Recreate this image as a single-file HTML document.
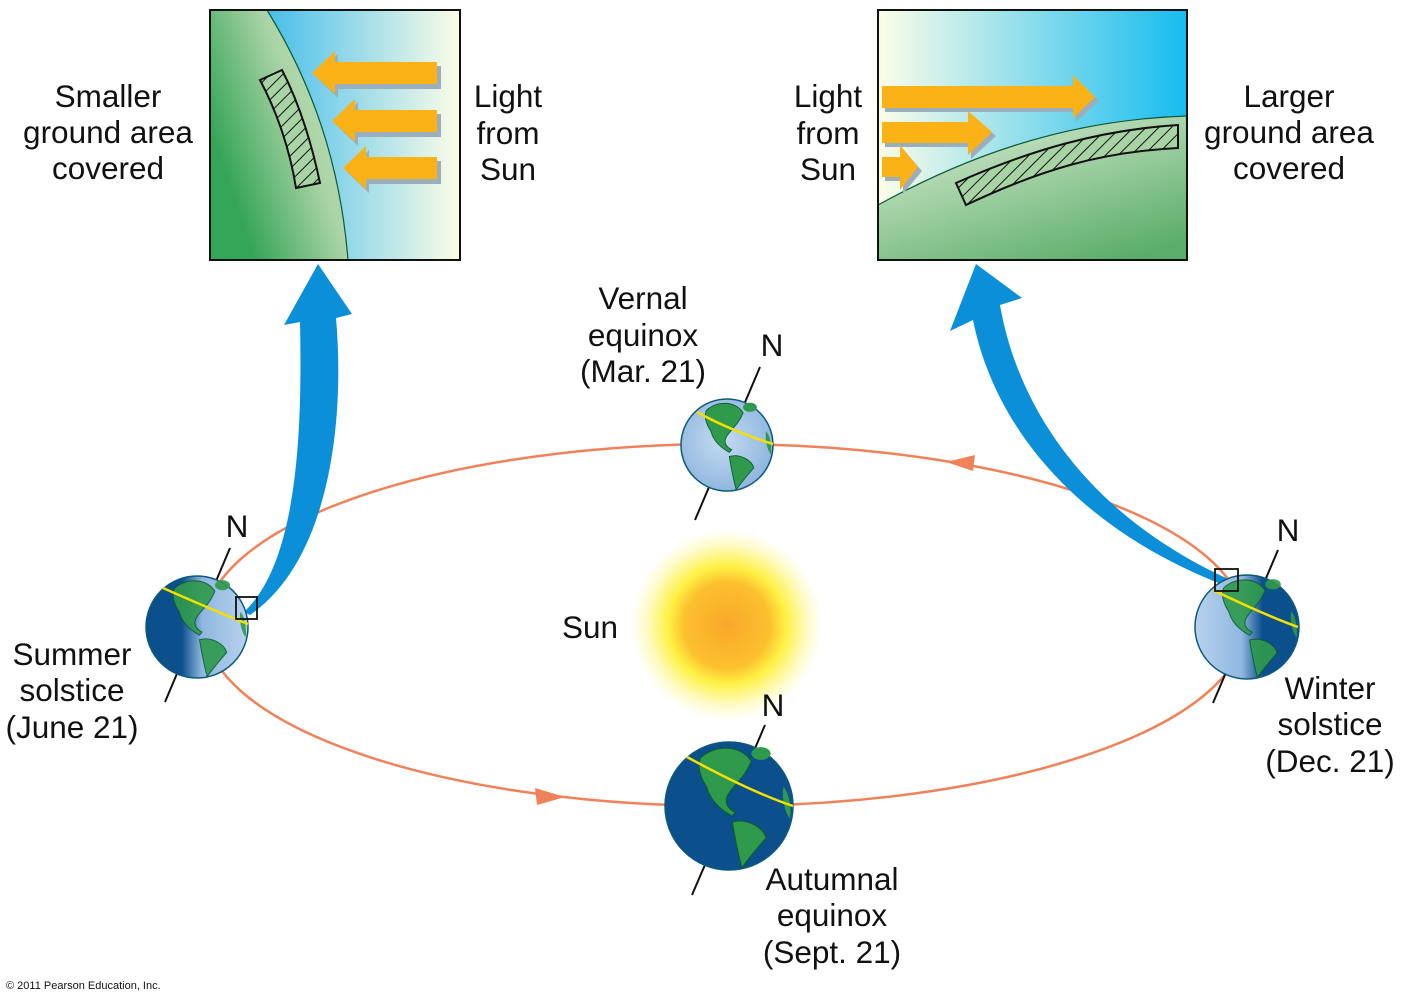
<!DOCTYPE html>
<html><head><meta charset="utf-8"><style>
html,body{margin:0;padding:0;background:#fff;}
svg{display:block;}
text{font-family:"Liberation Sans",sans-serif;fill:#111;}
</style></head><body>
<svg width="1402" height="1002" viewBox="0 0 1402 1002" xmlns="http://www.w3.org/2000/svg">
<defs>
<linearGradient id="skyL" x1="0" x2="1" y1="0" y2="0"><stop offset="0.2" stop-color="#40bbea"/><stop offset="1" stop-color="#fdfde8"/></linearGradient>
<linearGradient id="grL" x1="0.2" y1="0.8" x2="1" y2="0.3"><stop offset="0" stop-color="#35a558"/><stop offset="0.6" stop-color="#a9d3a5"/><stop offset="1" stop-color="#c0dfbc"/></linearGradient>
<linearGradient id="skyR" x1="0" x2="1" y1="0" y2="0"><stop offset="0" stop-color="#fdfde8"/><stop offset="1" stop-color="#16bcf0"/></linearGradient>
<linearGradient id="grR" x1="0.3" y1="0.2" x2="0.8" y2="1"><stop offset="0" stop-color="#bfdfbc"/><stop offset="1" stop-color="#5aad6a"/></linearGradient>
<pattern id="hatch" patternUnits="userSpaceOnUse" width="9" height="9" patternTransform="rotate(45)"><rect width="9" height="9" fill="#a8d3a4"/><line x1="0" y1="0" x2="0" y2="9" stroke="#111" stroke-width="2"/></pattern>
<radialGradient id="sun" cx="0.5" cy="0.5" r="0.5"><stop offset="0" stop-color="#f9a82a"/><stop offset="0.45" stop-color="#fcc02e"/><stop offset="0.62" stop-color="#fef145"/><stop offset="0.85" stop-color="#fffbc8"/><stop offset="1" stop-color="#ffffff"/></radialGradient>
<linearGradient id="eSum" x1="0" x2="1"><stop offset="0.35" stop-color="#0b4f8c"/><stop offset="0.55" stop-color="#8fb7df"/><stop offset="1" stop-color="#b9d2ee"/></linearGradient>
<linearGradient id="eWin" x1="0" x2="1"><stop offset="0" stop-color="#b9d2ee"/><stop offset="0.45" stop-color="#8fb7df"/><stop offset="0.65" stop-color="#0b4f8c"/></linearGradient>
<radialGradient id="eLit" cx="0.45" cy="0.45" r="0.6"><stop offset="0" stop-color="#c5dbf2"/><stop offset="1" stop-color="#8cb4dd"/></radialGradient>
<g id="cont">
<path d="M-0.45,-0.75 C-0.2,-0.98 0.2,-0.95 0.35,-0.7 C0.25,-0.45 0.1,-0.35 0,-0.2 C-0.1,-0.05 0,0.05 0.1,0.1 L0.05,0.16 C-0.15,0.05 -0.3,-0.1 -0.35,-0.3 C-0.45,-0.45 -0.5,-0.6 -0.45,-0.75 Z" fill="#2f9a4c" stroke="#0c5a3a" stroke-width="0.02"/>
<path d="M0.05,0.25 C0.3,0.18 0.55,0.35 0.58,0.5 C0.45,0.65 0.32,0.8 0.2,0.97 C0.14,0.75 0.1,0.55 0.05,0.25 Z" fill="#2f9a4c" stroke="#0c5a3a" stroke-width="0.02"/>
<ellipse cx="0.5" cy="-0.82" rx="0.15" ry="0.1" fill="#2f9a4c"/>
<path d="M0.85,-0.3 C0.95,-0.2 0.98,0.1 0.95,0.2 C0.88,0.1 0.82,-0.1 0.85,-0.3Z" fill="#2f9a4c"/>
</g>
</defs>

<ellipse cx="725" cy="625" rx="520" ry="181" fill="none" stroke="#f0825a" stroke-width="2.5"/>
<polygon points="946,462 975,455 973,471" fill="#f0825a"/>
<polygon points="565,797 535,788 537,805" fill="#f0825a"/>

<circle cx="727" cy="625" r="95" fill="url(#sun)"/>

<rect x="210" y="10" width="250" height="250" fill="url(#skyL)"/>
<path d="M210,10 L267,10 C310,80 340,160 348,260 L210,260 Z" fill="url(#grL)"/>
<path d="M267,10 C310,80 340,160 348,260" fill="none" stroke="#0c5a3a" stroke-width="1.2"/>
<path d="M260,80 L282,70 C300,105 312,145 320,183 L296,188 C290,150 277,112 260,80 Z" fill="url(#hatch)" stroke="#111" stroke-width="2"/>
<g fill="#9aaebd">
<polygon points="316,77 338,54 338,66 441,66 441,89 338,89 338,98"/>
<polygon points="336,125 358,102 358,114 441,114 441,137 358,137 358,146"/>
<polygon points="347,172 369,150 369,161 441,161 441,184 369,184 369,193"/>
</g>
<g fill="#fbb217">
<polygon points="312,73 335,51 335,62 437,62 437,84 335,84 335,94"/>
<polygon points="332,121 355,99 355,110 437,110 437,132 355,132 355,142"/>
<polygon points="343,168 366,146 366,157 437,157 437,179 366,179 366,189"/>
</g>
<rect x="210" y="10" width="250" height="250" fill="none" stroke="#111" stroke-width="2"/>

<rect x="878" y="10" width="309" height="250" fill="url(#skyR)"/>
<path d="M878,205 C960,160 1060,120 1187,116 L1187,260 L878,260 Z" fill="url(#grR)"/>
<path d="M878,205 C960,160 1060,120 1187,116" fill="none" stroke="#0c5a3a" stroke-width="1.2"/>
<path d="M956,183 C1030,150 1100,130 1178,125 L1178,148 C1100,152 1040,170 966,205 Z" fill="url(#hatch)" stroke="#111" stroke-width="2"/>
<g fill="#9aaebd">
<polygon points="885,90 1076,90 1076,79 1099,101 1076,122 1076,112 885,112"/>
<polygon points="885,126 971,126 971,115 996,136 971,159 971,147 885,147"/>
<polygon points="885,161 903,161 903,149 922,171 903,194 903,181 885,181"/>
</g>
<g fill="#fbb217">
<polygon points="882,86 1073,86 1073,75 1095,97 1073,118 1073,108 882,108"/>
<polygon points="882,122 968,122 968,111 992,132 968,155 968,143 882,143"/>
<polygon points="882,157 900,157 900,145 918,167 900,190 900,177 882,177"/>
</g>
<rect x="878" y="10" width="309" height="250" fill="none" stroke="#111" stroke-width="2"/>

<path d="M244,612 C300,560 302,420 300,322 L284,325 L318,264 L352,314 L336,318 C345,420 330,560 250,615 Z" fill="#0a8fd8"/>
<path d="M1226,578 C1100,520 1020,420 1000,305 L1022,298 L976,264 L950,331 L973,320 C995,430 1080,530 1226,586 Z" fill="#0a8fd8"/>

<g stroke="#111" stroke-width="2">
<line x1="165" y1="702" x2="230" y2="548"/>
<line x1="695" y1="520" x2="760" y2="367"/>
<line x1="1213" y1="703" x2="1278" y2="550"/>
<line x1="692" y1="895" x2="765" y2="725"/>
</g>
<circle cx="197" cy="627" r="51" fill="url(#eSum)" stroke="#0c5a7a" stroke-width="1.5"/>
<g transform="translate(197,627) scale(51)"><use href="#cont" opacity="0.9"/></g>
<path d="M163,588 C190,600 225,615 248,624" stroke="#f5e000" stroke-width="2.5" fill="none"/>
<rect x="236" y="597" width="21" height="22" fill="none" stroke="#111" stroke-width="1.8"/>
<circle cx="727" cy="445" r="46" fill="url(#eLit)" stroke="#0c5a7a" stroke-width="1.5"/>
<g transform="translate(727,445) scale(46)"><use href="#cont"/></g>
<path d="M697,412 C720,425 750,437 773,444" stroke="#f5e000" stroke-width="2.5" fill="none"/>
<circle cx="1247" cy="627" r="52" fill="url(#eWin)" stroke="#0c5a7a" stroke-width="1.5"/>
<g transform="translate(1247,627) scale(52)"><use href="#cont" opacity="0.9"/></g>
<path d="M1213,590 C1240,603 1270,617 1298,627" stroke="#f5e000" stroke-width="2.5" fill="none"/>
<rect x="1215" y="569" width="23" height="22" fill="none" stroke="#111" stroke-width="1.8"/>
<circle cx="729" cy="806" r="64" fill="#0b4f8c" stroke="#0c5a7a" stroke-width="1.5"/>
<g transform="translate(729,806) scale(64)"><use href="#cont"/></g>
<path d="M687,757 C720,775 760,795 793,806" stroke="#f5e000" stroke-width="2.5" fill="none"/>

<g font-size="31.5" text-anchor="middle">
<text x="108" y="107">Smaller</text><text x="108" y="143">ground area</text><text x="108" y="179">covered</text>
<text x="508" y="107">Light</text><text x="508" y="144">from</text><text x="508" y="180">Sun</text>
<text x="828" y="107">Light</text><text x="828" y="144">from</text><text x="828" y="180">Sun</text>
<text x="1289" y="107">Larger</text><text x="1289" y="143">ground area</text><text x="1289" y="179">covered</text>
<text x="643" y="309">Vernal</text><text x="643" y="346">equinox</text><text x="643" y="382">(Mar. 21)</text>
<text x="72" y="665">Summer</text><text x="72" y="701">solstice</text><text x="72" y="738">(June 21)</text>
<text x="1330" y="699">Winter</text><text x="1330" y="735">solstice</text><text x="1330" y="772">(Dec. 21)</text>
<text x="832" y="890">Autumnal</text><text x="832" y="926">equinox</text><text x="832" y="963">(Sept. 21)</text>
<text x="590" y="638">Sun</text>
<text x="772" y="356">N</text><text x="237" y="537">N</text><text x="1288" y="541">N</text><text x="773" y="716">N</text>
</g>
<text x="6" y="989" font-size="11">© 2011 Pearson Education, Inc.</text>
</svg>
</body></html>
